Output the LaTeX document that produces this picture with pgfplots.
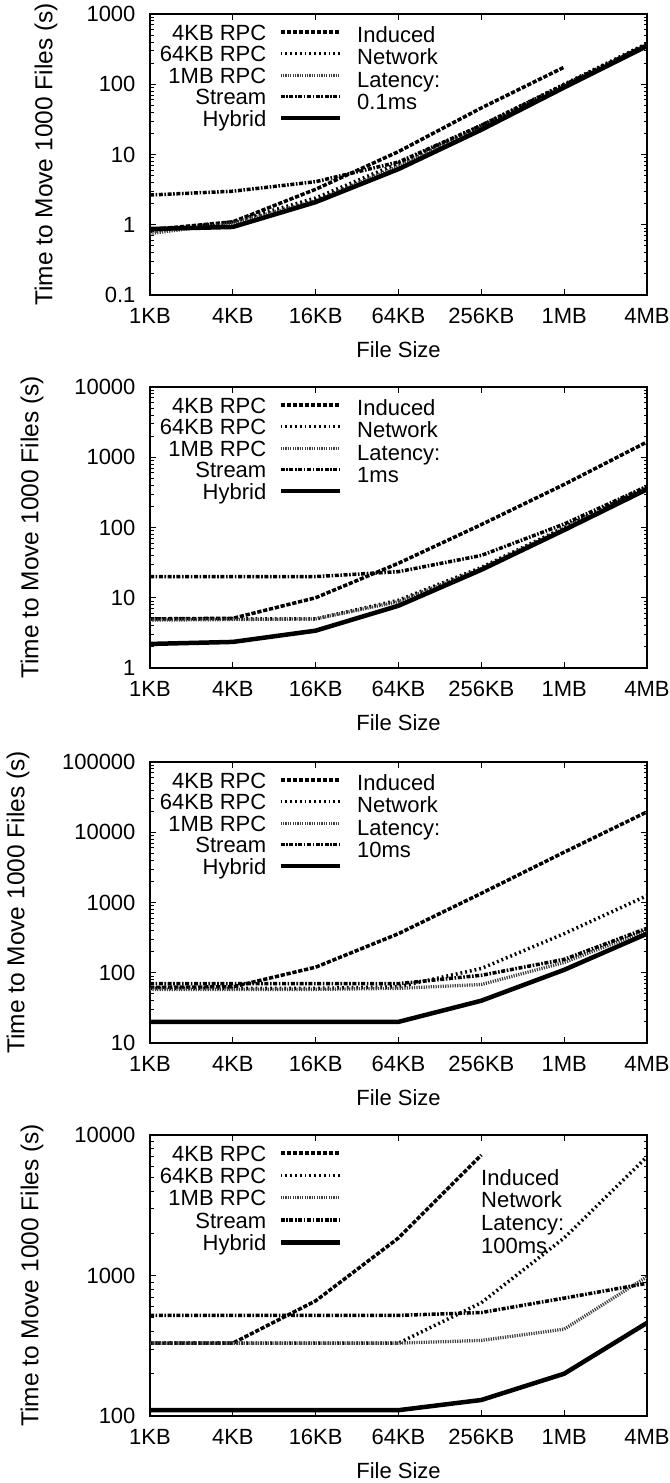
\documentclass[border=0pt]{standalone}
\usepackage{fontspec}
\setmainfont{Liberation Sans}
\usepackage{pgfplots}
\pgfplotsset{compat=1.18}
\tikzset{
 rpcA/.style={black, line width=3.5bp, dash pattern=on 4.3bp off 1.7bp},
 rpcB/.style={black, line width=3.5bp, dash pattern=on 1.8bp off 3.0bp},
 rpcC/.style={black!75, line width=3.3bp, dash pattern=on 1.2bp off 1.2bp},
 strm/.style={black, line width=3.5bp, dash pattern=on 4bp off 1.6bp on 1.6bp off 1.6bp},
 hyb/.style={black, line width=4.5bp},
}
\pgfplotsset{
 myaxisstyle/.style={
  scale only axis, width=497bp, height=281bp,
  xmin=0, xmax=6, xtick={0,...,6},
  xticklabels={1KB,4KB,16KB,64KB,256KB,1MB,4MB},
  tick align=inside,
  major tick length=6bp, minor tick length=3.5bp,
  every tick/.append style={black, line width=0.8bp},
  axis line style={line width=1.2bp},
  xticklabel style={yshift=-6bp},
  yticklabel style={xshift=-7bp},
  xlabel={File Size}, ylabel={Time to Move 1000 Files (s)},
  xlabel style={at={(axis description cs:0.5,-0.1957)}, anchor=center},
  ylabel style={font=\fontsize{24.5bp}{28bp}\selectfont},
  legend cell align=right, legend plot pos=right,
  legend image code/.code={\draw[##1] (0bp,0bp) -- (59bp,0bp);},
  legend style={draw=none, fill=none, inner sep=0pt, row sep=5.5bp, column sep=12bp,
    nodes={inner sep=0pt, text height=16bp, text depth=0bp},
    at={(axis description cs:0.3863,0.9644)}, anchor=north east},
 },
}
\newcommand{\lat}[1]{\node[anchor=north west, align=left, inner sep=0pt, font=\fontsize{22bp}{22.5bp}\selectfont] at (axis description cs:0.4165,0.957) {Induced\\Network\\Latency:\\#1};}
\begin{document}
\fontsize{22bp}{26bp}\selectfont
\begin{tikzpicture}
\path[use as bounding box] (0,0) rectangle (670bp,1483bp);
% Panel 1
\begin{axis}[myaxisstyle, ymode=log, at={(150bp,1188bp)}, anchor=south west,
  ymin=0.1, ymax=1000, ytick={0.1,1,10,100,1000}, yticklabels={0.1,1,10,100,1000},
  minor ytick={0.2,0.3,0.4,0.5,0.6,0.7,0.8,0.9,2,3,4,5,6,7,8,9,20,30,40,50,60,70,80,90,200,300,400,500,600,700,800,900},
  ylabel style={at={(axis description cs:-0.2093,0.5)}, anchor=center}]
\addplot[rpcA] coordinates {(0,0.85) (1,1.1) (2,3.2) (3,11) (4,46) (5,175)};
\addlegendentry{4KB RPC}
\addplot[rpcB] coordinates {(0,0.8) (1,1.1) (2,2.4) (3,7.5) (4,26) (5,100) (6,380)};
\addlegendentry{64KB RPC}
\addplot[rpcC] coordinates {(0,0.75) (1,1.05) (2,2.2) (3,6.8) (4,25) (5,95) (6,370)};
\addlegendentry{1MB RPC}
\addplot[strm] coordinates {(0,2.65) (1,3.0) (2,4.1) (3,7.8) (4,26) (5,98) (6,365)};
\addlegendentry{Stream}
\addplot[hyb] coordinates {(0,0.87) (1,0.93) (2,2.1) (3,6.2) (4,22.5) (5,90) (6,350)};
\addlegendentry{Hybrid}
\lat{0.1ms}
\end{axis}
% Panel 2
\begin{axis}[myaxisstyle, ymode=log, at={(150bp,815bp)}, anchor=south west,
  ymin=1, ymax=10000, ytick={1,10,100,1000,10000}, yticklabels={1,10,100,1000,10000},
  minor ytick={2,3,4,5,6,7,8,9,20,30,40,50,60,70,80,90,200,300,400,500,600,700,800,900,2000,3000,4000,5000,6000,7000,8000,9000},
  ylabel style={at={(axis description cs:-0.2374,0.5)}, anchor=center}]
\addplot[rpcA] coordinates {(0,5) (1,5.1) (2,10) (3,31) (4,110) (5,410) (6,1650)};
\addlegendentry{4KB RPC}
\addplot[rpcB] coordinates {(0,5) (1,5) (2,5) (3,9.2) (4,27) (5,100) (6,380)};
\addlegendentry{64KB RPC}
\addplot[rpcC] coordinates {(0,4.8) (1,4.9) (2,5) (3,8.8) (4,26) (5,97) (6,370)};
\addlegendentry{1MB RPC}
\addplot[strm] coordinates {(0,20) (1,20) (2,20) (3,23.5) (4,40) (5,112) (6,385)};
\addlegendentry{Stream}
\addplot[hyb] coordinates {(0,2.2) (1,2.35) (2,3.4) (3,7.7) (4,25) (5,92) (6,350)};
\addlegendentry{Hybrid}
\lat{1ms}
\end{axis}
% Panel 3
\begin{axis}[myaxisstyle, ymode=log, at={(150bp,440bp)}, anchor=south west,
  ymin=10, ymax=100000, ytick={10,100,1000,10000,100000}, yticklabels={10,100,1000,10000,100000},
  minor ytick={20,30,40,50,60,70,80,90,200,300,400,500,600,700,800,900,2000,3000,4000,5000,6000,7000,8000,9000,20000,30000,40000,50000,60000,70000,80000,90000},
  ylabel style={at={(axis description cs:-0.2656,0.5)}, anchor=center}]
\addplot[rpcA] coordinates {(0,62) (1,63) (2,120) (3,360) (4,1350) (5,5200) (6,19500)};
\addlegendentry{4KB RPC}
\addplot[rpcB] coordinates {(0,60) (1,60) (2,60) (3,63) (4,115) (5,360) (6,1250)};
\addlegendentry{64KB RPC}
\addplot[rpcC] coordinates {(0,58) (1,58) (2,58) (3,60) (4,68) (5,140) (6,400)};
\addlegendentry{1MB RPC}
\addplot[strm] coordinates {(0,70) (1,70) (2,70) (3,70) (4,92) (5,155) (6,430)};
\addlegendentry{Stream}
\addplot[hyb] coordinates {(0,20) (1,20) (2,20) (3,20) (4,40) (5,110) (6,360)};
\addlegendentry{Hybrid}
\lat{10ms}
\end{axis}
% Panel 4
\begin{axis}[myaxisstyle, ymode=log, at={(150bp,67bp)}, anchor=south west,
  ymin=100, ymax=10000, ytick={100,1000,10000}, yticklabels={100,1000,10000},
  minor ytick={200,300,400,500,600,700,800,900,2000,3000,4000,5000,6000,7000,8000,9000},
  ylabel style={at={(axis description cs:-0.2374,0.5)}, anchor=center},
  legend style={row sep=6.3bp}]
\addplot[rpcA] coordinates {(0,330) (1,330) (2,660) (3,1850) (4,7200)};
\addlegendentry{4KB RPC}
\addplot[rpcB] coordinates {(0,330) (1,330) (2,330) (3,330) (4,640) (5,1850) (6,7000)};
\addlegendentry{64KB RPC}
\addplot[rpcC] coordinates {(0,330) (1,330) (2,330) (3,330) (4,345) (5,415) (6,980)};
\addlegendentry{1MB RPC}
\addplot[strm] coordinates {(0,520) (1,520) (2,520) (3,520) (4,545) (5,690) (6,880)};
\addlegendentry{Stream}
\addplot[hyb] coordinates {(0,110) (1,110) (2,110) (3,110) (4,130) (5,200) (6,460)};
\addlegendentry{Hybrid}
\node[anchor=north west, align=left, inner sep=0pt, font=\fontsize{22bp}{22.7bp}\selectfont] at (axis description cs:0.6660,0.879) {Induced\\Network\\Latency:\\100ms};
\end{axis}
\end{tikzpicture}
\end{document}
